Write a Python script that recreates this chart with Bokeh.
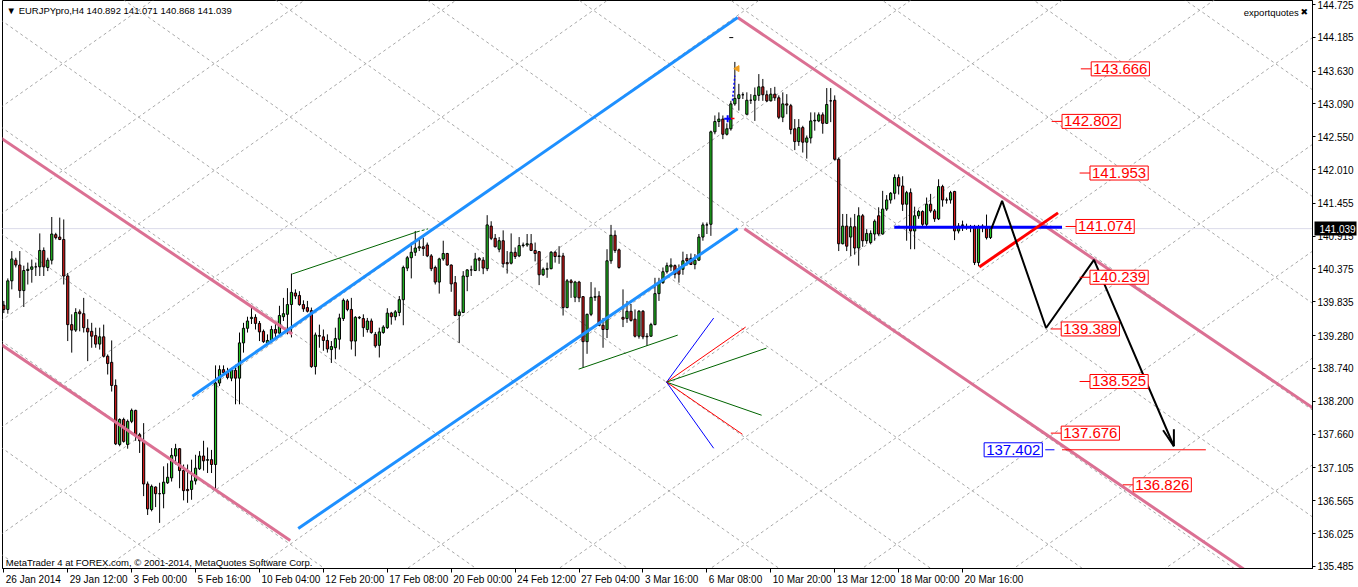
import math
from bokeh.plotting import figure
from bokeh.models import FixedTicker, NumeralTickFormatter, ColumnDataSource, Label, Range1d, LinearAxis
from bokeh.core.properties import value
from bokeh.embed import file_html
from bokeh.resources import INLINE

# ---------------- candle data (EURJPYpro, H4), one entry per bar ----------------
opens = [139.78,139.71,140.18,140.52,140.44,140.02,140.35,140.37,140.41,140.41,
         140.68,140.40,140.52,140.94,140.90,140.86,140.26,139.46,139.37,139.67,
         139.64,139.40,139.35,139.28,139.14,139.26,138.94,138.84,138.46,137.49,
         137.90,137.49,137.87,138.05,137.65,137.55,136.84,136.42,136.79,136.68,
         136.68,136.86,136.94,137.30,137.42,137.06,136.75,136.75,136.89,137.09,
         137.30,137.23,137.24,137.16,138.50,138.72,138.68,138.58,138.71,138.58,
         139.16,139.40,139.56,139.58,139.48,139.35,139.16,139.19,139.38,139.32,
         139.59,139.63,139.79,139.98,139.94,139.79,139.74,139.69,138.77,139.28,
         139.26,139.20,139.05,139.08,139.22,139.56,139.85,139.71,139.19,139.57,
         139.56,139.38,139.52,139.30,139.12,139.33,139.41,139.65,139.59,139.66,
         139.87,140.39,140.56,140.65,140.72,140.74,140.77,140.59,140.40,140.16,
         140.54,140.63,140.44,140.15,139.61,139.66,140.25,140.36,140.35,140.55,
         140.52,140.38,141.08,140.88,140.70,140.84,140.48,140.47,140.65,140.59,
         140.76,140.77,140.79,140.68,140.66,140.28,140.37,140.38,140.65,140.58,
         140.59,139.74,140.18,139.91,140.16,139.92,139.18,139.63,139.91,139.93,
         139.45,139.38,140.51,140.93,140.69,139.58,139.56,139.68,139.55,139.27,
         139.68,139.27,139.27,139.46,139.97,140.15,140.33,140.41,140.43,140.38,
         140.37,140.55,140.55,140.45,140.52,140.90,141.10,141.11,142.63,142.80,
         142.84,142.59,142.68,143.09,143.18,143.24,142.92,143.15,143.15,143.23,
         143.37,143.24,143.14,143.25,143.19,142.87,143.09,143.06,142.68,142.47,
         142.70,142.46,142.53,142.81,142.81,142.91,142.77,143.14,143.15,142.18,
         140.79,141.08,140.90,141.07,140.72,141.25,140.84,140.81,140.95,141.25,
         140.95,141.36,141.51,141.62,141.88,141.74,141.44,141.63,141.00,141.25,
         141.32,141.11,141.44,141.33,141.20,141.73,141.51,141.51,141.65,141.00,
         141.09,141.07,141.07,141.07,140.48,141.07,141.05,140.892]
highs = [139.85,140.22,140.67,140.56,140.67,140.43,140.48,140.53,140.48,140.96,
         140.73,140.56,141.23,140.97,141.22,141.19,140.31,139.63,139.73,139.71,
         139.90,139.55,139.49,139.41,139.41,139.46,138.97,139.20,138.56,137.92,
         137.93,137.90,138.08,138.06,137.68,137.84,136.88,136.83,136.80,136.86,
         137.13,137.18,137.43,137.50,137.43,137.16,137.16,137.24,137.32,137.38,
         137.55,137.44,137.40,138.79,138.79,138.79,138.75,138.75,138.80,139.33,
         139.49,139.59,139.77,139.63,139.52,139.38,139.30,139.44,139.49,139.77,
         139.90,140.06,140.30,140.04,140.01,139.86,139.85,139.74,139.33,139.46,
         139.38,139.30,139.19,139.41,139.64,139.89,139.88,139.90,139.60,139.60,
         139.63,139.57,139.56,139.34,139.41,139.45,139.73,139.67,139.70,139.93,
         140.43,140.59,140.81,141.00,140.86,140.89,140.81,140.62,140.43,140.56,
         140.84,140.64,140.45,140.26,139.71,140.34,140.37,140.43,140.64,140.57,
         140.57,141.26,141.16,140.95,140.90,141.01,140.67,140.96,140.73,140.90,
         140.81,140.95,140.95,140.81,140.67,140.40,140.48,140.67,140.67,140.75,
         140.64,140.21,140.21,140.18,140.18,139.93,139.64,140.16,140.07,140.01,
         139.57,140.70,141.10,141.01,140.71,140.04,139.85,139.80,139.71,139.70,
         139.70,139.32,139.49,140.23,140.23,140.40,140.48,140.55,140.45,140.45,
         140.66,140.62,140.63,140.62,140.95,141.14,141.14,142.65,142.90,142.95,
         142.90,142.77,143.14,143.78,143.42,143.28,143.28,143.25,143.36,143.58,
         143.50,143.31,143.35,143.37,143.23,143.28,143.25,143.09,142.84,142.84,
         142.73,142.57,142.95,142.95,142.95,142.95,143.35,143.35,143.23,142.21,
         141.28,141.28,141.22,141.28,141.39,141.28,141.03,141.01,141.19,141.39,
         141.66,141.59,141.64,141.93,141.93,141.90,141.66,141.70,141.40,141.35,
         141.34,141.55,141.61,141.36,141.85,141.76,141.55,141.66,141.66,141.13,
         141.17,141.12,141.10,141.10,141.10,141.11,141.27,141.071]
lows = [139.65,139.64,140.04,140.40,139.90,139.75,140.12,140.15,140.26,140.26,
        140.26,140.34,140.45,140.86,140.85,140.12,139.19,139.00,139.34,139.35,
        139.33,138.86,139.08,139.08,139.05,138.92,138.64,138.36,137.48,137.46,
        137.52,137.42,137.84,137.55,137.35,136.64,136.33,136.39,136.46,136.20,
        136.44,136.84,136.88,137.16,136.77,136.57,136.53,136.58,136.83,137.07,
        137.06,137.02,137.02,136.73,138.45,138.64,138.56,138.53,138.15,138.15,
        139.00,139.33,139.47,139.38,139.19,139.16,139.13,139.16,139.25,139.31,
        139.52,139.30,139.25,139.88,139.77,139.67,139.66,138.75,138.64,139.08,
        139.03,139.00,138.83,138.89,139.05,139.52,139.68,139.05,138.94,139.55,
        139.26,139.33,139.31,139.08,138.92,139.31,139.39,139.46,139.53,139.60,
        139.45,140.34,140.22,140.59,140.67,140.59,140.57,140.34,140.12,139.97,
        140.51,140.43,140.00,139.60,139.16,139.65,140.01,140.26,140.34,140.34,
        140.29,140.34,140.85,140.73,140.65,140.40,140.30,140.45,140.54,140.57,
        140.73,140.74,140.67,140.50,140.11,140.26,140.23,140.37,140.48,140.46,
        139.61,139.73,139.90,139.83,139.83,138.75,138.98,139.60,139.85,139.44,
        139.08,139.24,140.46,140.64,140.38,139.42,139.49,139.51,139.25,139.23,
        139.22,139.11,139.26,139.45,139.85,140.13,140.30,140.34,140.22,140.15,
        140.28,140.43,140.44,140.37,140.51,140.84,140.95,140.92,142.59,142.71,
        142.51,142.57,142.65,143.06,142.98,143.17,142.91,143.09,142.81,143.14,
        143.14,143.12,143.13,143.14,142.84,142.79,142.92,142.59,142.33,142.40,
        142.29,142.19,142.44,142.65,142.79,142.60,142.76,142.79,142.16,140.67,
        140.78,140.67,140.59,140.61,140.43,140.74,140.79,140.78,140.84,140.92,
        140.94,141.33,141.45,141.52,141.60,141.33,140.84,140.70,140.70,141.20,
        141.05,141.05,141.30,141.15,141.18,141.40,141.45,141.45,140.85,140.96,
        141.00,141.02,140.98,140.44,140.42,140.98,140.86,140.868]
closes = [139.71,140.18,140.54,140.44,140.02,140.35,140.37,140.41,140.41,140.68,
          140.41,140.52,140.95,140.89,140.86,140.26,139.46,139.37,139.66,139.64,
          139.41,139.34,139.27,139.14,139.26,138.94,138.82,138.46,137.50,137.90,
          137.54,137.87,138.05,137.64,137.55,136.84,136.43,136.80,136.68,136.68,
          136.87,136.95,137.31,137.42,137.06,136.73,136.73,136.89,137.10,137.30,
          137.22,137.24,137.16,138.50,138.72,138.67,138.59,138.71,138.58,139.16,
          139.40,139.52,139.58,139.48,139.34,139.18,139.20,139.38,139.32,139.61,
          139.64,139.79,139.99,139.93,139.79,139.72,139.68,138.77,139.29,139.27,
          139.20,139.06,139.10,139.23,139.57,139.86,139.71,139.19,139.58,139.58,
          139.41,139.52,139.33,139.11,139.34,139.42,139.65,139.59,139.67,139.87,
          140.40,140.56,140.65,140.72,140.74,140.71,140.59,140.38,140.16,140.54,
          140.63,140.44,140.13,139.61,139.67,140.26,140.36,140.36,140.54,140.52,
          140.39,141.10,140.88,140.74,140.84,140.46,140.46,140.65,140.58,140.76,
          140.77,140.79,140.68,140.63,140.28,140.37,140.38,140.65,140.58,140.59,
          139.74,140.18,140.15,140.16,139.90,139.18,139.63,139.91,139.92,139.45,
          139.38,140.51,140.93,140.68,140.40,139.55,139.68,139.53,139.27,139.68,
          139.26,139.26,139.46,139.97,140.15,140.33,140.43,140.44,140.29,140.29,
          140.51,140.51,140.45,140.52,140.90,141.10,141.10,142.63,142.80,142.84,
          142.59,142.68,143.09,143.18,143.24,143.24,143.15,143.15,143.23,143.37,
          143.24,143.14,143.25,143.19,142.87,143.09,143.07,142.67,142.47,142.70,
          142.46,142.53,142.81,142.82,142.91,142.77,143.08,143.14,142.18,140.79,
          141.08,140.75,141.07,140.72,141.25,140.84,140.96,140.96,141.16,140.95,
          141.36,141.51,141.62,141.88,141.74,141.44,141.63,141.00,141.25,141.32,
          141.11,141.44,141.33,141.20,141.73,141.51,141.51,141.63,141.00,141.08,
          141.10,141.07,141.06,140.48,141.07,141.08,140.89,141.039]

# ---------------- axes ----------------
x_tick_bars = [0, 16, 32, 48, 64, 80, 96, 112, 128, 144, 160, 176, 192, 208, 224, 240]
x_tick_labels = ["26 Jan 2014", "29 Jan 12:00", "3 Feb 00:00", "5 Feb 16:00", "10 Feb 04:00",
                 "12 Feb 20:00", "17 Feb 08:00", "20 Feb 00:00", "24 Feb 12:00", "27 Feb 04:00",
                 "3 Mar 16:00", "6 Mar 08:00", "10 Mar 20:00", "13 Mar 12:00", "18 Mar 00:00",
                 "20 Mar 16:00"]
y_ticks = [144.725, 144.185, 143.630, 143.090, 142.550, 142.010, 141.455, 140.915, 140.375,
           139.835, 139.280, 138.740, 138.200, 137.660, 137.105, 136.565, 136.025, 135.485]
last_price = 141.039
title_text = "\u25BC EURJPYpro,H4  140.892 141.071 140.868 141.039"

# ---------------- drawing objects (bar index, price) ----------------
pink_x0 = [-0.83, -0.83, 183.7, 185.4]
pink_y0 = [142.534, 139.140, 144.511, 141.035]
pink_x1 = [72.2, 71.7, 328.2, 310.9]
pink_y1 = [139.305, 135.911, 138.069, 135.417]

blue_x0 = [47.2, 73.7]
blue_y0 = [138.283, 136.109]
blue_x1 = [183.7, 183.7]
blue_y1 = [144.511, 141.035]

green_x0 = [72.2, 143.9]
green_y0 = [140.293, 138.728]
green_x1 = [103.4, 168.7]
green_y1 = [140.985, 139.288]

fan_origin = (165.9, 138.514)
fan_end_x = [177.7, 185.7, 190.9, 189.7, 184.9, 177.7]
fan_end_y = [139.568, 139.420, 139.074, 137.970, 137.657, 137.427]
fan_colors = ["#0000FF", "#FF0000", "#006400", "#006400", "#FF0000", "#0000FF"]

# Gann-grid style lattice: anchor, slope (price per bar), spacing
grid_anchor_bar, grid_anchor_price = 71.675, 141.117
grid_slope, grid_step = 0.04628, 1.7562

hline_blue = (222.9, 264.9, 141.06)
red_trend = (244.2, 140.409, 263.9, 141.298)
zigzag_x = [247.2, 249.9, 260.9, 272.9, 292.9]
zigzag_y = [141.035, 141.496, 139.404, 140.524, 137.460]
arrow_tail_x = [290.2, 292.9]
arrow_tail_y = [137.723, 137.740]

level_prices = [143.666, 142.802, 141.953, 141.074, 140.239, 139.389, 138.525, 137.676, 136.826]
level_bars = [272.2, 264.9, 271.9, 268.4, 271.9, 264.7, 271.9, 264.7, 282.7]
target_price = 137.402
target_bar = 245.4
target_line = (264.9, 300.9)

# ---------------- figure ----------------
X0, X1 = -0.33, 327.6
Y0, Y1 = 135.45, 144.79
p = figure(width=1358, height=587, x_range=Range1d(X0, X1), y_range=Range1d(Y0, Y1),
           y_axis_location="right", toolbar_location=None, output_backend="svg",
           min_border_left=2, min_border_right=0, min_border_top=0, min_border_bottom=0)
p.xgrid.visible = False
p.ygrid.visible = False
p.outline_line_color = "black"
p.background_fill_color = "white"
p.border_fill_color = "white"

for ax in (p.xaxis, p.yaxis):
    ax.axis_label = None
    ax.axis_line_color = "black"
    ax.major_tick_line_color = "black"
    ax.major_tick_in = 0
    ax.minor_tick_in = 0
    ax.axis_label_standoff = 0
    ax.major_label_text_font = "Liberation Sans"
    ax.major_label_text_font_size = "10px"
    ax.major_label_text_color = "black"

# labels of the time axis start at their tick (MT4 style): label anchors sit at the label centre
_cw = {" ": 278, ":": 278, "J": 500, "F": 611, "M": 833, "a": 556, "n": 556, "e": 556,
       "b": 556, "r": 333}
def _label_width(s, size=10.0):
    return sum(_cw.get(ch, 556) for ch in s) * size / 1000.0

px_per_bar = 1312.0 / (X1 - X0)
label_centres = [round(b + (_label_width(s) / 2 + 2) / px_per_bar, 3)
                 for b, s in zip(x_tick_bars, x_tick_labels)]
p.xaxis.ticker = FixedTicker(ticks=label_centres, minor_ticks=x_tick_bars)
p.xaxis.major_label_overrides = {c: s for c, s in zip(label_centres, x_tick_labels)}
p.xaxis.major_tick_line_color = None
p.xaxis.major_tick_out = 4
p.xaxis.minor_tick_out = 4
p.xaxis.minor_tick_line_color = "black"
p.xaxis.major_label_standoff = 1

p.yaxis.ticker = FixedTicker(ticks=y_ticks)
p.yaxis.formatter = NumeralTickFormatter(format="0.000")
p.yaxis.minor_tick_line_color = None
p.yaxis.major_tick_out = 3
p.yaxis.major_label_standoff = 2

# current-price marker on the price scale (black box, white text): an extra right axis whose
# single tick reaches back over the main price scale
price_marker = LinearAxis(ticker=FixedTicker(ticks=[last_price]),
                          formatter=NumeralTickFormatter(format="0.000"),
                          axis_line_color=None, axis_label=None,
                          major_tick_out=0, major_tick_in=42, major_tick_line_width=14,
                          major_tick_line_color="black", minor_tick_line_color=None,
                          major_label_standoff=-37, major_label_text_color="white",
                          major_label_text_font="Liberation Sans",
                          major_label_text_font_size="10px", axis_label_standoff=0)
p.add_layout(price_marker, "right")

# lattice lines
ga_x0, ga_y0, ga_x1, ga_y1 = [], [], [], []
for k in range(-10, 14):
    for sgn in (-1, 1):
        xa, xb = -2.0, 332.0
        ga_x0.append(xa)
        ga_x1.append(xb)
        ga_y0.append(grid_anchor_price + sgn * grid_slope * (xa - grid_anchor_bar) + k * grid_step)
        ga_y1.append(grid_anchor_price + sgn * grid_slope * (xb - grid_anchor_bar) + k * grid_step)
p.segment(ga_x0, ga_y0, ga_x1, ga_y1, line_color="#A8A8A8", line_width=1, line_dash="3 3")

# last price line
p.segment([-2], [last_price], [332], [last_price], line_color="#DCDCEA", line_width=1)

# candles
idx = list(range(len(closes)))
src = ColumnDataSource(dict(
    x=idx,
    top=[max(o, c) for o, c in zip(opens, closes)],
    bottom=[min(o, c) for o, c in zip(opens, closes)],
    high=highs, low=lows,
    color=["#22C322" if c >= o else "#D11A1A" for o, c in zip(opens, closes)],
))
p.segment(x0="x", y0="high", x1="x", y1="low", line_color="black", line_width=1, source=src)
p.vbar(x="x", width=0.55, top="top", bottom="bottom", fill_color="color",
       line_color="black", line_width=1, source=src)

# channels
p.segment(pink_x0, pink_y0, pink_x1, pink_y1, line_color="#DB7093", line_width=3)
p.segment(blue_x0, blue_y0, blue_x1, blue_y1, line_color="#1E90FF", line_width=3)
p.segment(green_x0, green_y0, green_x1, green_y1, line_color="#006400", line_width=1)
p.segment([green_x1[0]], [green_y1[0]], [106.2], [141.035], line_color="#006400",
          line_width=1, line_dash="3 2")

# fan
p.segment([fan_origin[0]] * 6, [fan_origin[1]] * 6, fan_end_x, fan_end_y,
          line_color=fan_colors, line_width=1)

# marks near the top
p.segment([182.4], [143.143], [183.0], [143.555], line_color="#0000FF", line_width=1.5, line_dash="2 2")
p.scatter([181.2], [142.847], marker="cross", size=7, line_color="#0000FF", line_width=2)
p.segment([182.0], [142.85], [182.9], [142.85], line_color="#FF0000", line_width=1.5)
p.scatter([183.6], [143.67], marker="triangle", angle=math.pi / 2, size=6,
          fill_color="#F0A020", line_color="#F0A020")
p.segment([181.6], [144.18], [182.6], [144.18], line_color="black", line_width=1)

# forecast objects
p.segment([hline_blue[0]], [hline_blue[2]], [hline_blue[1]], [hline_blue[2]],
          line_color="#0000FF", line_width=3)
p.segment([red_trend[0]], [red_trend[1]], [red_trend[2]], [red_trend[3]],
          line_color="#FF0000", line_width=3)
p.line(zigzag_x, zigzag_y, line_color="black", line_width=2)
p.segment(arrow_tail_x, arrow_tail_y, [zigzag_x[-1]] * 2, [zigzag_y[-1]] * 2,
          line_color="black", line_width=2)
p.segment([target_line[0]], [target_price], [target_line[1]], [target_price],
          line_color="#FF0000", line_width=1)

# level labels
p.segment([b - 2.6 for b in level_bars], level_prices, level_bars, level_prices,
          line_color="#FF0000", line_width=1)
p.text(x=level_bars, y=level_prices, text=[f"{v:.3f}" for v in level_prices],
       text_font=value("Liberation Sans"), text_font_size="15px", text_color="#FF0000",
       text_align="left", text_baseline="middle", background_fill_color="white",
       border_line_color="#FF0000", border_line_width=1, padding=2)
p.segment([target_bar + 15.3], [target_price], [target_bar + 17.6], [target_price],
          line_color="#0000FF", line_width=1)
p.text(x=[target_bar], y=[target_price], text=[f"{target_price:.3f}"],
       text_font=value("Liberation Sans"), text_font_size="15px", text_color="#0000FF",
       text_align="left", text_baseline="middle", background_fill_color="white",
       border_line_color="#0000FF", border_line_width=1, padding=2)

# texts
p.add_layout(Label(x=0.7, y=144.626, text=title_text, text_font="Liberation Sans",
                   text_font_size="9.5px", text_color="black", text_baseline="middle"))
p.add_layout(Label(x=0.5, y=135.549, text="MetaTrader 4 at FOREX.com, \u00A9 2001-2014, MetaQuotes Software Corp.",
                   text_font="Liberation Sans", text_font_size="9.5px", text_color="black",
                   text_baseline="middle"))
p.add_layout(Label(x=310.4, y=144.593, text="exportquotes", text_font="Liberation Sans",
                   text_font_size="9.5px", text_color="black", text_baseline="middle"))
p.add_layout(Label(x=324.6, y=144.593, text="\u2716", text_font="DejaVu Sans",
                   text_font_size="9px", text_color="black", text_baseline="middle"))

open("out.html", "w").write(file_html(p, INLINE))
